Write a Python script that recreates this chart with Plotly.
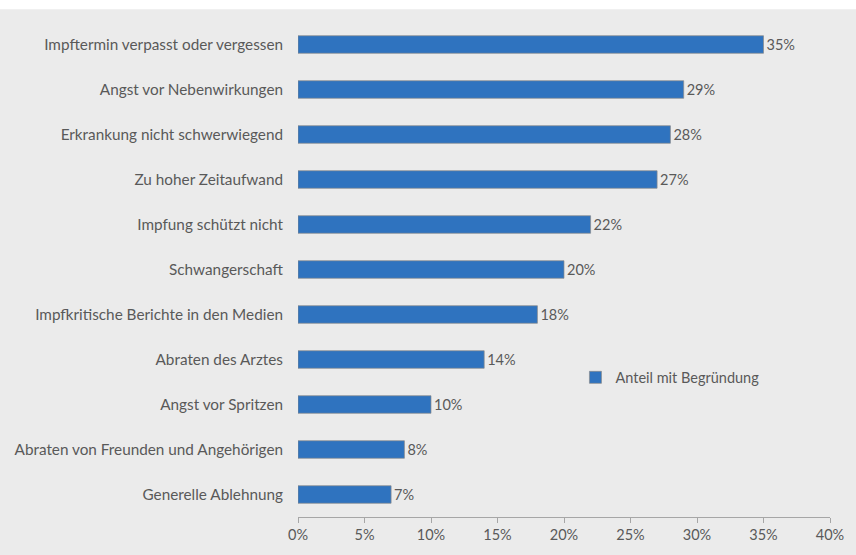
import plotly.graph_objects as go

categories = [
    "Impftermin verpasst oder vergessen",
    "Angst vor Nebenwirkungen",
    "Erkrankung nicht schwerwiegend",
    "Zu hoher Zeitaufwand",
    "Impfung schützt nicht",
    "Schwangerschaft",
    "Impfkritische Berichte in den Medien",
    "Abraten des Arztes",
    "Angst vor Spritzen",
    "Abraten von Freunden und Angehörigen",
    "Generelle Ablehnung",
]
values = [0.35, 0.29, 0.28, 0.27, 0.22, 0.20, 0.18, 0.14, 0.10, 0.08, 0.07]
series_name = "Anteil mit Begründung"
x_ticks = [0, 0.05, 0.10, 0.15, 0.20, 0.25, 0.30, 0.35, 0.40]

W, H = 856, 555
ML, MR, MT, MB = 298, 17, 22, 30
TOP_WHITE = 9
PW = W - ML - MR
PH = H - MT - MB

BG = "#EBEBEB"
TXT = "#595959"
BAR = "#2F73BF"

fig = go.Figure()
fig.add_trace(go.Bar(
    y=categories, x=values, orientation="h", name=series_name,
    marker=dict(color=BAR, line=dict(color="#8a8a8a", width=0.7)),
    text=[f"{v*100:.0f}%" for v in values], textposition="outside",
    textfont=dict(color=TXT, size=14.5, family="Lato"),
    cliponaxis=False, showlegend=True,
))
# thin white strip along the top edge of the chart
fig.add_shape(type="rect", xref="paper", yref="paper", layer="below",
              x0=-ML / PW - 0.05, x1=1 + MR / PW + 0.05,
              y0=1 + (MT - TOP_WHITE) / PH, y1=1 + MT / PH + 0.05,
              fillcolor="white", line=dict(width=0))
fig.update_layout(
    autosize=True,
    paper_bgcolor=BG, plot_bgcolor="rgba(0,0,0,0)",
    margin=dict(l=ML, r=MR, t=MT, b=MB),
    bargap=0.61,
    font=dict(family="Lato", color=TXT, size=15),
    xaxis=dict(range=[0, 0.4], tickvals=x_ticks, tickformat=".0%",
               showgrid=False, zeroline=False, showline=True,
               linecolor="#A6A6A6", linewidth=1, ticks="outside",
               ticklen=5, tickcolor="#A6A6A6",
               tickfont=dict(size=14.5, color=TXT)),
    yaxis=dict(autorange="reversed", showgrid=False, showline=False,
               ticks="", ticklabelstandoff=14,
               tickfont=dict(size=15.3, color=TXT)),
    legend=dict(x=0.5215, y=0.282, xanchor="left", yanchor="middle",
                bgcolor="rgba(0,0,0,0)", font=dict(size=14.5, color=TXT),
                itemwidth=30),
)
post = (
    "document.body.style.margin='0';"
    "document.documentElement.style.overflow='hidden';"
    "document.body.style.overflow='hidden';"
    "var gd=document.getElementById('{plot_id}');"
    "var sx=window.innerWidth/%d, sy=window.innerHeight/%d;"
    "Plotly.relayout(gd,{'width':window.innerWidth,'height':window.innerHeight,"
    "'margin.l':%d*sx,'margin.r':%d*sx,'margin.t':%d*sy,'margin.b':%d*sy});"
) % (W, H, ML, MR, MT, MB)
fig.write_html(
    "out.html",
    config={"displayModeBar": False, "responsive": True},
    default_width="100vw", default_height="100vh",
    post_script=post,
)
